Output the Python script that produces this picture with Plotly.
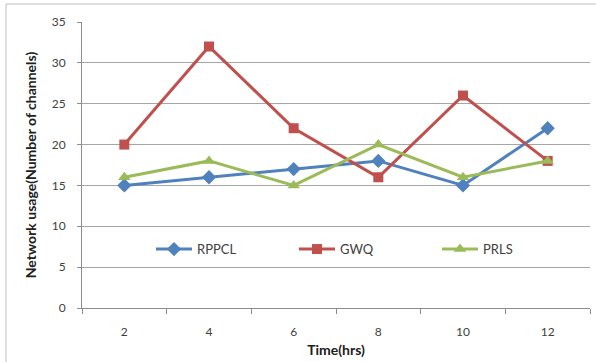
import plotly.graph_objects as go

categories = ["2", "4", "6", "8", "10", "12"]
rppcl = [15, 16, 17, 18, 15, 22]
gwq = [20, 32, 22, 16, 26, 18]
prls = [16, 18, 15, 20, 16, 18]
y_ticks = [0, 5, 10, 15, 20, 25, 30, 35]

fig = go.Figure()
fig.add_trace(go.Scatter(x=categories, y=rppcl, name="RPPCL", mode="lines+markers",
                         line=dict(color="#4F81BD", width=3),
                         marker=dict(symbol="diamond", size=11, color="#4F81BD")))
fig.add_trace(go.Scatter(x=categories, y=gwq, name="GWQ", mode="lines+markers",
                         line=dict(color="#C0504D", width=3),
                         marker=dict(symbol="square", size=10, color="#C0504D")))
fig.add_trace(go.Scatter(x=categories, y=prls, name="PRLS", mode="lines+markers",
                         line=dict(color="#9BBB59", width=3),
                         marker=dict(symbol="triangle-up", size=11, color="#9BBB59")))

font = "Lato, 'Open Sans', sans-serif"
fig.update_layout(
    width=596, height=362,
    margin=dict(l=82, r=6, t=22, b=54),
    paper_bgcolor="white", plot_bgcolor="white",
    font=dict(family=font, size=12, color="#404040"),
    showlegend=True,
    legend=dict(orientation="h", x=(151 - 82) / 508, y=0.206, xanchor="left", yanchor="middle",
                bgcolor="rgba(0,0,0,0)", font=dict(size=13, color="#404040"),
                itemwidth=36, entrywidth=92, entrywidthmode="pixels"),
    xaxis=dict(type="category", showgrid=False, showline=True, linecolor="#8C8C8C",
               linewidth=1, ticks="outside", ticklen=5, tickcolor="#8C8C8C",
               tickson="boundaries", ticklabelstandoff=13,
               title=dict(text="<b>Time(hrs)</b>", font=dict(size=14, color="#202020"),
                          standoff=6),
               automargin=False, range=[-0.5, 5.5]),
    yaxis=dict(range=[0, 35], tickvals=y_ticks, showgrid=True, gridcolor="#A6A6A6",
               gridwidth=1, showline=True, linecolor="#8C8C8C", linewidth=1,
               ticks="outside", ticklen=4, tickcolor="#8C8C8C", ticklabelstandoff=9,
               zeroline=False,
               title=dict(text="<b>Network usage(Number of channels)</b>",
                          font=dict(size=14, color="#202020"), standoff=11),
               automargin=False),
    shapes=[dict(type="rect", xref="paper", yref="paper",
                 x0=(6 - 82) / 508, x1=(640 - 82) / 508,
                 y0=(308 - 400) / 286, y1=(308 - 4) / 286,
                 line=dict(color="#BFBFBF", width=1), layer="below")],
)
fig.write_html("out.html")
